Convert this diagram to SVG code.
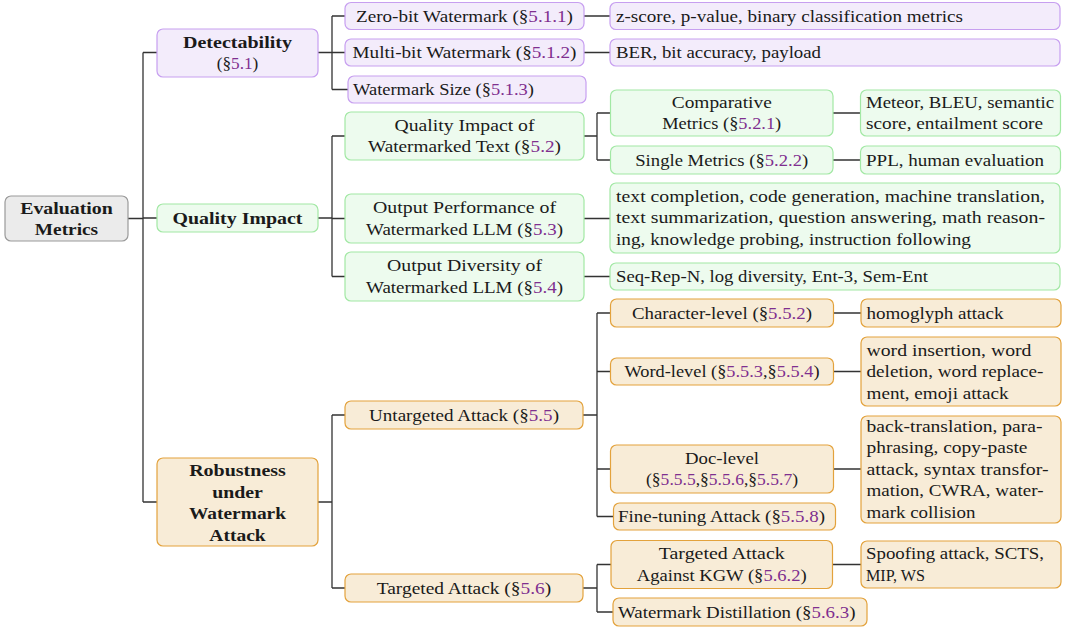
<svg xmlns="http://www.w3.org/2000/svg" width="1069" height="628" viewBox="0 0 1069 628" style="font-family:'Liberation Serif','Times New Roman',serif">
<style>
text{font-size:17.5px;fill:#1a1a1a}
.b{font-weight:bold}
.m{text-anchor:middle}
.s{fill:#7f2f8f}
.gr{fill:#ebebeb;stroke:#9a9a9a;stroke-width:1.2}
.pu{fill:#f3ecfb;stroke:#c79ff0;stroke-width:1.2}
.gn{fill:#edfbee;stroke:#a2e8a4;stroke-width:1.2}
.or{fill:#f8ecd7;stroke:#e3a23c;stroke-width:1.2}
.e{fill:none;stroke:#333;stroke-width:1.3}
</style>
<g id="connectors">
<path class="e" d="M128,218.5H143M143,52.5V502M143,52.5H157M143,218H157M143,502H157"/>
<path class="e" d="M318,52.5H332M332,16V89.5M332,16H345M332,52.5H345M332,89.5H348"/>
<path class="e" d="M318,218H332M332,136V276.5M332,136H345M332,218.5H345M332,276.5H345"/>
<path class="e" d="M318,502H332M332,415V588M332,415H345M332,588H345"/>
<path class="e" d="M584,16H610M584,52.5H610M584,218.5H610M584,276.5H610"/>
<path class="e" d="M584,136H597M597,113V160M597,113H610.5M597,160H610.5"/>
<path class="e" d="M583,415H597M597,313V516.5M597,313H610.5M597,371.5H610.5M597,469H610.5M597,516.5H613.5"/>
<path class="e" d="M583,588H597M597,564.5V612M597,564.5H611M597,612H613"/>
<path class="e" d="M833,113H860.5M833,160H860.5M833.5,313H861M833.5,371.5H861M833.5,469H861M832.5,564.5H861"/>
</g>
<g id="root"><rect class="gr" x="5" y="196" width="123" height="45" rx="6"/>
<text class="b m" x="66.5" y="213.5" textLength="92.7" lengthAdjust="spacingAndGlyphs">Evaluation</text>
<text class="b m" x="66.5" y="235" textLength="63.3" lengthAdjust="spacingAndGlyphs">Metrics</text></g>
<g id="detectability"><rect class="pu" x="157" y="29" width="161" height="48" rx="6"/>
<text class="b m" x="237.5" y="47.5" textLength="109" lengthAdjust="spacingAndGlyphs">Detectability</text>
<text class="m" x="237.5" y="69" textLength="41.6" lengthAdjust="spacingAndGlyphs">(§<tspan class="s">5.1</tspan>)</text></g>
<g id="quality"><rect class="gn" x="157" y="204" width="161" height="28" rx="6"/>
<text class="b m" x="237.5" y="223.5" textLength="130" lengthAdjust="spacingAndGlyphs">Quality Impact</text></g>
<g id="robustness"><rect class="or" x="157" y="458" width="161" height="88" rx="6"/>
<text class="b m" x="237.5" y="476" textLength="96.7" lengthAdjust="spacingAndGlyphs">Robustness</text>
<text class="b m" x="237.5" y="497.5" textLength="50.7" lengthAdjust="spacingAndGlyphs">under</text>
<text class="b m" x="237.5" y="519" textLength="97" lengthAdjust="spacingAndGlyphs">Watermark</text>
<text class="b m" x="237.5" y="540.5" textLength="56.3" lengthAdjust="spacingAndGlyphs">Attack</text></g>
<g id="zerobit"><rect class="pu" x="345" y="2.5" width="239" height="27" rx="6"/>
<text class="m" x="464.5" y="21.5" textLength="217" lengthAdjust="spacingAndGlyphs">Zero-bit Watermark (§<tspan class="s">5.1.1</tspan>)</text></g>
<g id="multibit"><rect class="pu" x="345" y="39" width="239" height="27" rx="6"/>
<text class="m" x="464.5" y="58" textLength="224" lengthAdjust="spacingAndGlyphs">Multi-bit Watermark (§<tspan class="s">5.1.2</tspan>)</text></g>
<g id="wmsize"><rect class="pu" x="348" y="76" width="238" height="27" rx="6"/>
<text x="353" y="95" textLength="181" lengthAdjust="spacingAndGlyphs">Watermark Size (§<tspan class="s">5.1.3</tspan>)</text></g>
<g id="qiwt"><rect class="gn" x="345" y="112" width="239" height="48" rx="6"/>
<text class="m" x="464.5" y="131" textLength="140" lengthAdjust="spacingAndGlyphs">Quality Impact of</text>
<text class="m" x="464.5" y="152" textLength="193" lengthAdjust="spacingAndGlyphs">Watermarked Text (§<tspan class="s">5.2</tspan>)</text></g>
<g id="outperf"><rect class="gn" x="345" y="194" width="239" height="49" rx="6"/>
<text class="m" x="464.5" y="213" textLength="183" lengthAdjust="spacingAndGlyphs">Output Performance of</text>
<text class="m" x="464.5" y="234.5" textLength="197" lengthAdjust="spacingAndGlyphs">Watermarked LLM (§<tspan class="s">5.3</tspan>)</text></g>
<g id="outdiv"><rect class="gn" x="345" y="252" width="239" height="49" rx="6"/>
<text class="m" x="464.5" y="271" textLength="155" lengthAdjust="spacingAndGlyphs">Output Diversity of</text>
<text class="m" x="464.5" y="292.5" textLength="197" lengthAdjust="spacingAndGlyphs">Watermarked LLM (§<tspan class="s">5.4</tspan>)</text></g>
<g id="untargeted"><rect class="or" x="345" y="401" width="238" height="28" rx="6"/>
<text class="m" x="464" y="420.5" textLength="190" lengthAdjust="spacingAndGlyphs">Untargeted Attack (§<tspan class="s">5.5</tspan>)</text></g>
<g id="targeted"><rect class="or" x="345" y="574" width="238" height="28" rx="6"/>
<text class="m" x="464" y="593.5" textLength="174.5" lengthAdjust="spacingAndGlyphs">Targeted Attack (§<tspan class="s">5.6</tspan>)</text></g>
<g id="zerobit-metrics"><rect class="pu" x="610" y="2.5" width="450" height="27" rx="6"/>
<text x="616" y="21.5" textLength="347" lengthAdjust="spacingAndGlyphs">z-score, p-value, binary classification metrics</text></g>
<g id="multibit-metrics"><rect class="pu" x="610" y="39" width="450" height="27" rx="6"/>
<text x="616" y="58" textLength="205" lengthAdjust="spacingAndGlyphs">BER, bit accuracy, payload</text></g>
<g id="comparative"><rect class="gn" x="610.5" y="90" width="222.5" height="46" rx="6"/>
<text class="m" x="721.75" y="107.5" textLength="100" lengthAdjust="spacingAndGlyphs">Comparative</text>
<text class="m" x="721.75" y="129" textLength="119" lengthAdjust="spacingAndGlyphs">Metrics (§<tspan class="s">5.2.1</tspan>)</text></g>
<g id="single"><rect class="gn" x="610.5" y="146" width="222.5" height="28" rx="6"/>
<text class="m" x="721.75" y="165.5" textLength="173" lengthAdjust="spacingAndGlyphs">Single Metrics (§<tspan class="s">5.2.2</tspan>)</text></g>
<g id="comparative-metrics"><rect class="gn" x="860.5" y="90" width="200" height="46" rx="6"/>
<text x="866" y="107.5" textLength="188" lengthAdjust="spacingAndGlyphs">Meteor, BLEU, semantic</text>
<text x="866" y="129" textLength="177" lengthAdjust="spacingAndGlyphs">score, entailment score</text></g>
<g id="single-metrics"><rect class="gn" x="860.5" y="146" width="200" height="28" rx="6"/>
<text x="866" y="165.5" textLength="178" lengthAdjust="spacingAndGlyphs">PPL, human evaluation</text></g>
<g id="outperf-tasks"><rect class="gn" x="610" y="183" width="450" height="70" rx="6"/>
<text x="616" y="201.5" textLength="429" lengthAdjust="spacingAndGlyphs">text completion, code generation, machine translation,</text>
<text x="616" y="223" textLength="429" lengthAdjust="spacingAndGlyphs">text summarization, question answering, math reason-</text>
<text x="616" y="244.5" textLength="355" lengthAdjust="spacingAndGlyphs">ing, knowledge probing, instruction following</text></g>
<g id="outdiv-metrics"><rect class="gn" x="610" y="263" width="450" height="27" rx="6"/>
<text x="616" y="282" textLength="312" lengthAdjust="spacingAndGlyphs">Seq-Rep-N, log diversity, Ent-3, Sem-Ent</text></g>
<g id="charlevel"><rect class="or" x="610.5" y="299" width="223" height="28" rx="6"/>
<text class="m" x="722" y="318.5" textLength="180" lengthAdjust="spacingAndGlyphs">Character-level (§<tspan class="s">5.5.2</tspan>)</text></g>
<g id="wordlevel"><rect class="or" x="610.5" y="358" width="223" height="27" rx="6"/>
<text class="m" x="722" y="377" textLength="195" lengthAdjust="spacingAndGlyphs">Word-level (§<tspan class="s">5.5.3</tspan>,§<tspan class="s">5.5.4</tspan>)</text></g>
<g id="doclevel"><rect class="or" x="610.5" y="445" width="223" height="48" rx="6"/>
<text class="m" x="722" y="463.5" textLength="74" lengthAdjust="spacingAndGlyphs">Doc-level</text>
<text class="m" x="722" y="485" textLength="152" lengthAdjust="spacingAndGlyphs">(§<tspan class="s">5.5.5</tspan>,§<tspan class="s">5.5.6</tspan>,§<tspan class="s">5.5.7</tspan>)</text></g>
<g id="finetuning"><rect class="or" x="613.5" y="503" width="222" height="27" rx="6"/>
<text x="618" y="522" textLength="207" lengthAdjust="spacingAndGlyphs">Fine-tuning Attack (§<tspan class="s">5.5.8</tspan>)</text></g>
<g id="kgw"><rect class="or" x="611" y="540.5" width="221.5" height="48" rx="6"/>
<text class="m" x="721.75" y="559" textLength="126" lengthAdjust="spacingAndGlyphs">Targeted Attack</text>
<text class="m" x="721.75" y="580.5" textLength="170" lengthAdjust="spacingAndGlyphs">Against KGW (§<tspan class="s">5.6.2</tspan>)</text></g>
<g id="distillation"><rect class="or" x="613" y="598" width="254" height="28" rx="6"/>
<text x="618" y="617.5" textLength="237.5" lengthAdjust="spacingAndGlyphs">Watermark Distillation (§<tspan class="s">5.6.3</tspan>)</text></g>
<g id="char-attacks"><rect class="or" x="861" y="299" width="200" height="28" rx="6"/>
<text x="866.5" y="318.5" textLength="137" lengthAdjust="spacingAndGlyphs">homoglyph attack</text></g>
<g id="word-attacks"><rect class="or" x="861" y="337" width="200" height="69" rx="6"/>
<text x="866.5" y="355.5" textLength="165" lengthAdjust="spacingAndGlyphs">word insertion, word</text>
<text x="866.5" y="377" textLength="177" lengthAdjust="spacingAndGlyphs">deletion, word replace-</text>
<text x="866.5" y="398.5" textLength="142" lengthAdjust="spacingAndGlyphs">ment, emoji attack</text></g>
<g id="doc-attacks"><rect class="or" x="861" y="416" width="200" height="107" rx="6"/>
<text x="866.5" y="431.5" textLength="176" lengthAdjust="spacingAndGlyphs">back-translation, para-</text>
<text x="866.5" y="453" textLength="161" lengthAdjust="spacingAndGlyphs">phrasing, copy-paste</text>
<text x="866.5" y="474.5" textLength="182" lengthAdjust="spacingAndGlyphs">attack, syntax transfor-</text>
<text x="866.5" y="496" textLength="177" lengthAdjust="spacingAndGlyphs">mation, CWRA, water-</text>
<text x="866.5" y="517.5" textLength="109" lengthAdjust="spacingAndGlyphs">mark collision</text></g>
<g id="kgw-attacks"><rect class="or" x="861" y="541" width="200" height="47" rx="6"/>
<text x="866" y="559" textLength="178" lengthAdjust="spacingAndGlyphs">Spoofing attack, SCTS,</text>
<text x="866" y="580.5" textLength="59" lengthAdjust="spacingAndGlyphs">MIP, WS</text></g>
</svg>
